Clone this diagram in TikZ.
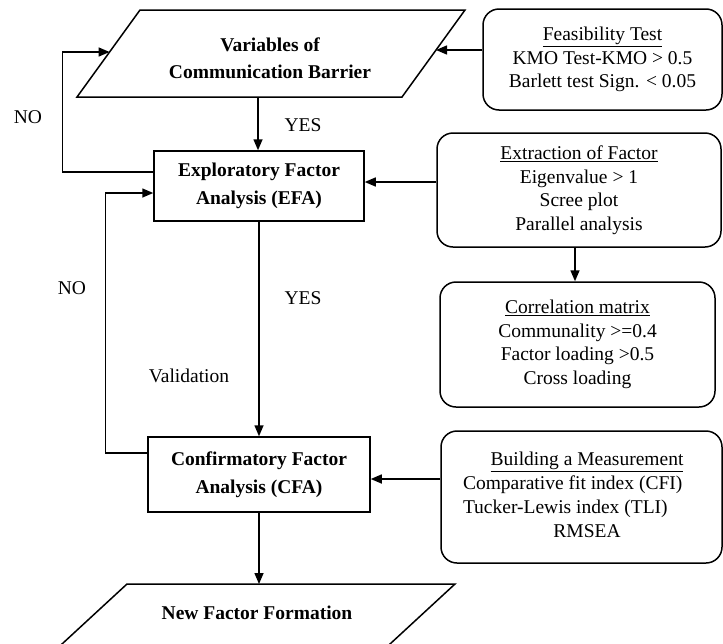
\documentclass[tikz,border=0pt]{standalone}
\usepackage{fontspec}
\setmainfont{Liberation Serif}
\usetikzlibrary{arrows.meta}
\begin{document}
\begin{tikzpicture}[x=1pt,y=-1pt,
  line width=1.5pt,
  arr/.style={-{Triangle[length=11pt,width=9pt]}},
  pbox/.style={draw, rectangle, font=\bfseries\fontsize{19.5}{27.5}\selectfont, align=center, inner sep=0pt},
  rbox/.style={draw, rounded corners=16pt, font=\fontsize{19.5}{23.5}\selectfont, align=center, inner sep=0pt},
  lbl/.style={font=\fontsize{19.5}{23.5}\selectfont, inner sep=0pt},
  blbl/.style={font=\bfseries\fontsize{19.5}{27}\selectfont, align=center, inner sep=0pt}]
\useasboundingbox (0,0) rectangle (723,643);
\clip (0,0) rectangle (723,643);
\fill[white] (0,0) rectangle (723,643);

% top parallelogram
\draw (140,10) -- (465,10) -- (402,97) -- (77,97) -- cycle;
\coordinate (vR) at (436,50);
\coordinate (vL) at (109.6,52);
\coordinate (vB) at (258,97);
\node[blbl] (var) at (270,58.5) {Variables of\\Communication Barrier};

% main boxes
\node[pbox, minimum width=210, minimum height=70] (efa) at (259,186) {Exploratory Factor\\Analysis (EFA)};
\node[pbox, minimum width=222, minimum height=75] (cfa) at (259,474.5) {Confirmatory Factor\\Analysis (CFA)};

% bottom parallelogram
\draw (127,584) -- (455,584) -- (325,704) -- (-3,704) -- cycle;
\coordinate (nT) at (258,584);
\node[blbl] (newf) at (257,613) {New Factor Formation};

% side boxes
\node[rbox, minimum width=239, minimum height=101] (feas) at (602.5,59.5)
  {\underline{Feasibility Test}\\KMO Test-KMO > 0.5\\Barlett test Sign. < 0.05};
\node[rbox, minimum width=284, minimum height=114] (ext) at (579,190)
  {\underline{Extraction of Factor}\\Eigenvalue > 1\\Scree plot\\Parallel analysis};
\node[rbox, minimum width=275, minimum height=125] (corr) at (577.5,344.5)
  {\underline{Correlation matrix}\\Communality >=0.4\\Factor loading >0.5\\Cross loading};
\node[rbox, minimum width=281, minimum height=132, font=\fontsize{19.5}{24}\selectfont] (build) at (581.5,497)
  {\begin{tabular}{@{\hspace{11pt}}l@{}}\makebox[248pt]{\underline{Building a Measurement}}\\ Comparative fit index (CFI)\\ Tucker-Lewis index (TLI)\\ \makebox[248pt]{RMSEA}\end{tabular}};

% labels
\node[lbl] (yes1) at (303,125) {YES};
\node[lbl] (no1) at (28,117) {NO};
\node[lbl] (yes2) at (303,298) {YES};
\node[lbl] (valid) at (189,376) {Validation};
\node[lbl] (no2) at (72,288) {NO};

% connectors
\draw[arr] (vB) -- (vB |- efa.north);
\coordinate (e1) at ([yshift=14pt]efa.west);
\draw[arr] (e1) -- ++(-91,0) |- (vL);
\draw[arr] (efa.south) -- (efa.south |- cfa.north);
\coordinate (c1) at ([yshift=21.5pt]cfa.west);
\coordinate (e2) at ([yshift=-7pt]efa.west);
\draw[arr] (c1) -- ++(-42,0) |- (e2);
\coordinate (f1) at ([yshift=9.5pt]feas.west);
\draw[arr] (f1) -- (vR);
\coordinate (x1) at ([yshift=8pt]ext.west);
\draw[arr] (x1) -- (x1 -| efa.east);
\coordinate (xs) at ([xshift=-4pt]ext.south);
\draw[arr] (xs) -- (xs |- corr.north);
\coordinate (b1) at ([yshift=18pt]build.west);
\draw[arr] (b1) -- (b1 -| cfa.east);
\draw[arr] (cfa.south) -- (cfa.south |- nT);
\end{tikzpicture}
\end{document}
